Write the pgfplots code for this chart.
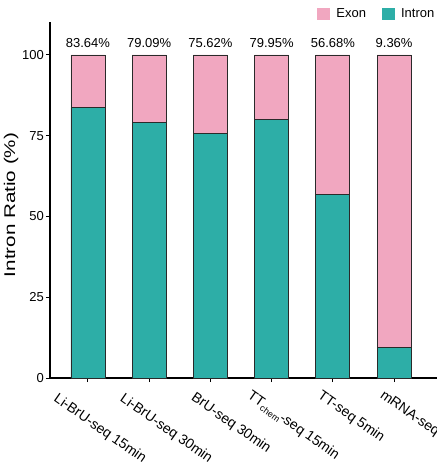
\documentclass[border=0pt]{standalone}
\usepackage{graphicx}
\usepackage{pgfplots}
\usepackage{pgfplotstable}
\pgfplotsset{compat=1.18}
\usepackage{fontspec}
\setmainfont{Liberation Sans}

\definecolor{exonpink}{HTML}{F1A7C0}
\definecolor{intronteal}{HTML}{2DAEA7}
\definecolor{edgegray}{HTML}{2A2A2A}

\tikzset{
  catlabel/.style={rotate=-35, anchor=north west, inner sep=0pt,
    font=\fontsize{14bp}{16bp}\selectfont},
  pctlabel/.style={anchor=base, inner sep=0pt, yshift=7bp,
    font=\fontsize{13bp}{15bp}\selectfont},
}

% intron share of reads per library; exon = 100 - intron
\pgfplotstableread{
idx intron exon
0 83.64 16.36
1 79.09 20.91
2 75.62 24.38
3 79.95 20.05
4 56.68 43.32
5 9.36 90.64
}\ratios

\begin{document}
\begin{tikzpicture}
\useasboundingbox (0,0) rectangle (437bp,462bp);
\begin{axis}[
  at={(50bp,84bp)}, anchor=south west,
  scale only axis, width=390bp, height=356bp,
  xmin=-0.62, xmax=5.75, ymin=0, ymax=110.2,
  ybar stacked, bar width=34bp,
  axis x line=bottom, axis y line=left,
  axis line style={-, line width=1.1bp, black},
  ytick={0,25,50,75,100},
  xtick={0,...,5}, xticklabels={,,,,,},
  tick align=outside, major tick length=4bp,
  tick style={line width=1bp, black},
  /pgf/number format/assume math mode=true,
  yticklabel style={font=\fontsize{13bp}{15bp}\selectfont, inner sep=2bp},
  ylabel={\scalebox{1.33}[1]{Intron Ratio (\%)}},
  ylabel style={at={(axis description cs:-0.1,0.486)}, anchor=center,
    font=\fontsize{15.5bp}{18bp}\selectfont},
  clip=false,
  reverse legend,
  legend columns=-1,
  legend style={at={(axis description cs:0.991,1.0225)}, anchor=east,
    draw=none, fill=none, inner sep=0pt,
    font=\fontsize{13bp}{15bp}\selectfont,
    /tikz/every even column/.append style={column sep=14bp}},
]
\addplot[fill=intronteal, draw=edgegray, line width=0.8bp,
  legend image code/.code={
    \path[draw=none, fill=none] (0bp,-6bp) rectangle (17bp,6bp);
    \fill[fill=intronteal, draw=none] (0bp,-6bp) rectangle (13bp,6bp);}]
  table[x=idx, y=intron]{\ratios};
\addlegendentry{Intron}
\addplot[fill=exonpink, draw=edgegray, line width=0.8bp,
  legend image code/.code={
    \path[draw=none, fill=none] (0bp,-6bp) rectangle (17bp,6bp);
    \fill[fill=exonpink, draw=none] (0bp,-6bp) rectangle (13bp,6bp);}]
  table[x=idx, y=exon]{\ratios};
\addlegendentry{Exon}

% intron percentage above each bar
\node[pctlabel] at (axis cs:0,100) {83.64\%};
\node[pctlabel] at (axis cs:1,100) {79.09\%};
\node[pctlabel] at (axis cs:2,100) {75.62\%};
\node[pctlabel] at (axis cs:3,100) {79.95\%};
\node[pctlabel] at (axis cs:4,100) {56.68\%};
\node[pctlabel] at (axis cs:5,100) {9.36\%};

% category names under the ticks
\node[catlabel] at ([xshift=-29bp,yshift=-14bp]axis cs:0,0) {Li-BrU-seq 15min};
\node[catlabel] at ([xshift=-24bp,yshift=-14bp]axis cs:1,0) {Li-BrU-seq 30min};
\node[catlabel] at ([xshift=-14bp,yshift=-13bp]axis cs:2,0) {BrU-seq 30min};
\node[catlabel] at ([xshift=-19bp,yshift=-11bp]axis cs:3,0) {TT{\fontsize{9bp}{10bp}\selectfont\raisebox{-3bp}{chem}}-seq 15min};
\node[catlabel] at ([xshift=-10bp,yshift=-11bp]axis cs:4,0) {TT-seq 5min};
\node[catlabel] at ([xshift=-9bp,yshift=-11bp]axis cs:5,0) {mRNA-seq};
\end{axis}
\end{tikzpicture}
\end{document}
